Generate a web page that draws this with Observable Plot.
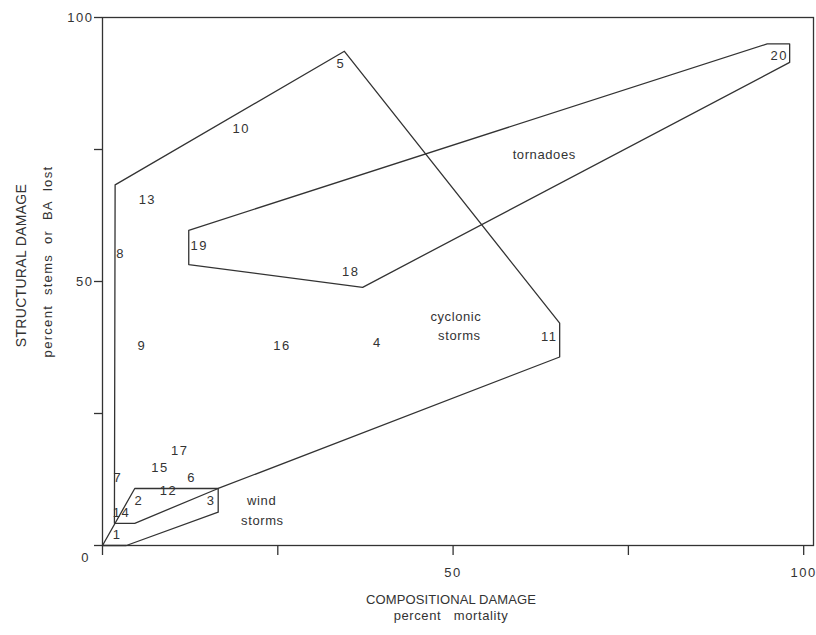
<!DOCTYPE html>
<html>
<head>
<meta charset="utf-8">
<script src="https://cdn.jsdelivr.net/npm/d3@7"></script>
<script src="https://cdn.jsdelivr.net/npm/@observablehq/plot@0.6"></script>
<style>
  body { margin: 0; background: #fff; }
  svg { display: block; }
</style>
</head>
<body>
<div id="chart"></div>
<script>
// Storm events: id, compositional damage (% mortality), structural damage (% stems or BA lost)
const eventIds = ["1","14","2","12","3","6","15","17","7","9","16","4","11","8","19","18","13","10","5","20"];
const eventX   = [2.1, 2.7, 5.2, 9.4, 15.5, 12.7, 8.2, 11.0, 2.2, 5.6, 25.6, 39.2, 63.7, 2.6, 13.8, 35.4, 6.4, 19.8, 34.0, 96.5];
const eventY   = [2.1, 6.1, 8.5, 10.4, 8.5, 12.9, 14.7, 18.0, 12.9, 37.9, 37.9, 38.3, 39.6, 55.3, 56.8, 51.8, 65.5, 79.0, 91.3, 92.8];

// Envelopes drawn around each storm type
const windX      = [0, 4.6, 16.5, 16.5, 3.4];
const windY      = [0, 10.8, 10.8, 6.3, 0];
const cyclonicX  = [1.8, 34.5, 65.2, 65.2, 16.5, 4.6, 1.7];
const cyclonicY  = [68.3, 93.6, 42.1, 35.7, 10.8, 4.2, 4.2];
const tornadoX   = [12.3, 12.3, 37.1, 98.0, 98.0, 94.8];
const tornadoY   = [59.7, 53.2, 48.9, 91.5, 95.0, 95.0];

// Region labels
const regionText = ["tornadoes", "cyclonic", "storms", "wind", "storms"];
const regionX    = [63.0, 50.4, 50.9, 22.7, 22.8];
const regionY    = [73.9, 43.4, 39.8, 8.4, 4.6];

// Axes
const xTicks = [0, 25, 50, 75, 100];
const xTickLabels = ["", "", "50", "", "100"];
const yTicks = [0, 25, 50, 75, 100];
const yTickLabels = ["", "", "50", "", "100"];

const xTitle = "COMPOSITIONAL DAMAGE";
const xSubtitle = "percent   mortality";
const yTitle = "STRUCTURAL DAMAGE";
const ySubtitle = "percent  stems  or  BA  lost";

function ring(name, X, Y) {
  const pts = X.map((x, i) => ({name, x, y: Y[i]}));
  pts.push({name, x: X[0], y: Y[0]});
  return pts;
}
const polygons = [
  ...ring("wind", windX, windY),
  ...ring("cyclonic", cyclonicX, cyclonicY),
  ...ring("tornado", tornadoX, tornadoY)
];
const events = eventIds.map((id, i) => ({id, x: eventX[i], y: eventY[i]}));
const regions = regionText.map((t, i) => ({t, x: regionX[i], y: regionY[i]}));

const ink = "#333";

const chart = Plot.plot({
  width: 816,
  height: 635,
  marginLeft: 102,
  marginRight: 3,
  marginTop: 17,
  marginBottom: 90,
  x: {domain: [0, 101.4]},
  y: {domain: [0, 100]},
  style: {fontFamily: "'Liberation Sans', Arial, Helvetica, sans-serif", background: "#fff", color: ink},
  marks: [
    Plot.frame({stroke: ink, strokeWidth: 1.3}),
    Plot.axisX({ticks: xTicks, tickSize: 10, tickPadding: 12, fontSize: 13,
                tickFormat: d => xTickLabels[xTicks.indexOf(d)], label: null, stroke: ink, strokeWidth: 1.3}),
    Plot.axisY({ticks: yTicks, tickSize: 8, tickPadding: 1, fontSize: 13,
                tickFormat: d => yTickLabels[yTicks.indexOf(d)], label: null, stroke: ink, strokeWidth: 1.3}),
    Plot.text(["0"], {x: 0, y: 0, dx: -17, dy: 12, fontSize: 13, fill: ink}),
    Plot.line(polygons, {x: "x", y: "y", z: "name", stroke: ink, strokeWidth: 1.3, curve: "linear"}),
    Plot.text(events, {x: "x", y: "y", text: "id", fontSize: 13, fill: ink}),
    Plot.text(regions, {x: "x", y: "y", text: "t", fontSize: 13, fill: ink}),
    Plot.text([xTitle], {frameAnchor: "bottom", dx: -7, dy: 58, fontSize: 13, fill: ink}),
    Plot.text([xSubtitle], {frameAnchor: "bottom", dx: -7, dy: 74, fontSize: 13, fill: ink}),
    Plot.text([yTitle], {frameAnchor: "left", textAnchor: "middle", dx: -81, dy: -16, rotate: -90, fontSize: 14, fill: ink}),
    Plot.text([ySubtitle], {frameAnchor: "left", textAnchor: "middle", dx: -55, dy: -20, rotate: -90, fontSize: 13, fill: ink})
  ]
});

d3.select(chart).selectAll("text").each(function() {
  const t = this.textContent;
  if (/^\d+$/.test(t)) this.style.letterSpacing = "1.5px";
  else if (t === xTitle) this.style.letterSpacing = "0.1px";
  else if (t === yTitle) this.style.letterSpacing = "0.3px";
  else if (t === ySubtitle) this.style.letterSpacing = "1.3px";
  else this.style.letterSpacing = "0.6px";
});

document.getElementById("chart").appendChild(chart);
</script>
</body>
</html>
